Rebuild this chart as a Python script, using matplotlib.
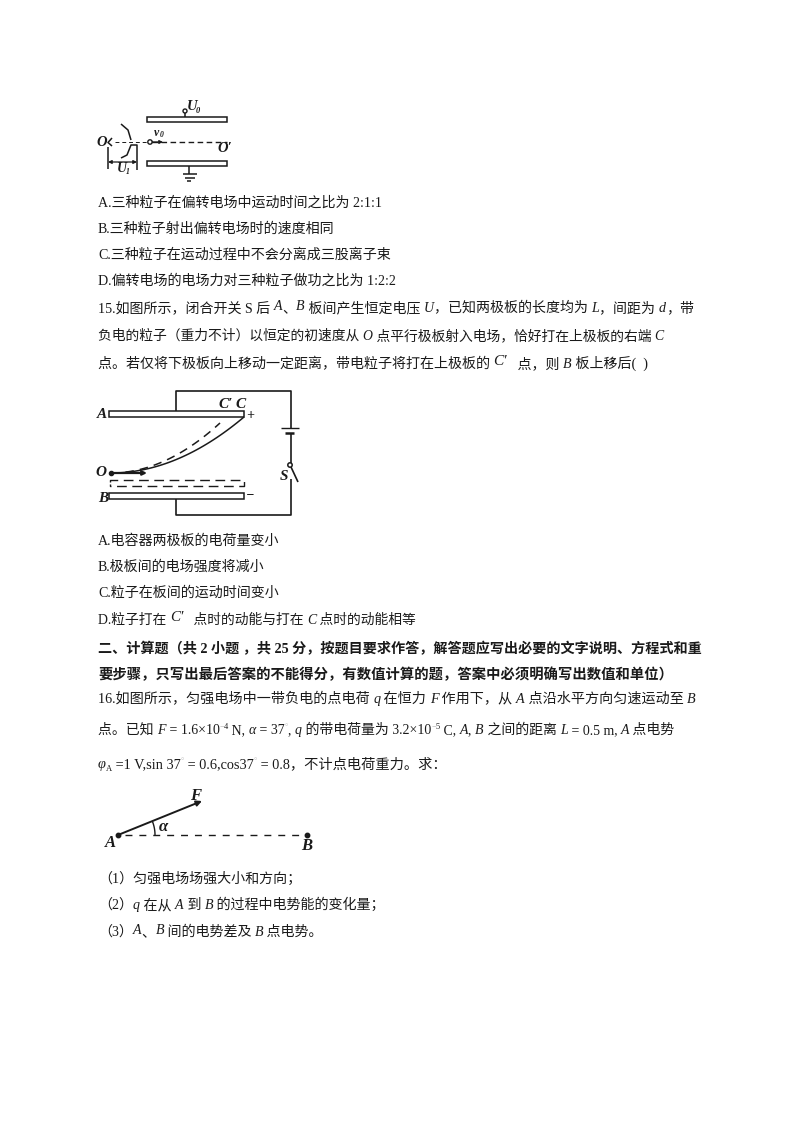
import numpy as np
import matplotlib
matplotlib.use('Agg')
import matplotlib.pyplot as plt
from matplotlib.patches import Rectangle, Circle

plt.rcParams['font.family'] = ['Liberation Serif', 'Noto Sans CJK SC']
SERIF = ['Liberation Serif', 'Noto Sans CJK SC']
INK = '#1a1a1a'

# page text: (center y, right edge to fit or None, segments)
# segment kinds: r plain, i italic, b bold, s superscript, f faint superscript,
# u subscript, a raised italic, m big raised italic
page_lines = [
    (202, None, [('A.三种粒子在偏转电场中运动时间之比为 2:1:1', 'r')]),
    (228, None, [('B.三种粒子射出偏转电场时的速度相同', 'r')]),
    (254, None, [('C.三种粒子在运动过程中不会分离成三股离子束', 'r')]),
    (280, None, [('D.偏转电场的电场力对三种粒子做功之比为 1:2:2', 'r')]),
    (307, 692, [('15.如图所示，闭合开关 S 后 ', 'r'), ('A', 'a'), ('、', 'r'), ('B', 'a'),
                (' 板间产生恒定电压 ', 'r'), ('U', 'i'), ('，已知两极板的长度均为 ', 'r'), ('L', 'i'),
                ('，间距为 ', 'r'), ('d', 'i'), ('，带', 'r')]),
    (335, 664, [('负电的粒子（重力不计）以恒定的初速度从 ', 'r'), ('O', 'i'),
                (' 点平行极板射入电场，恰好打在上极板的右端 ', 'r'), ('C', 'i')]),
    (363, 648, [('点。若仅将下极板向上移动一定距离，带电粒子将打在上极板的 ', 'r'), ('C′', 'm'),
                ('   点，则 ', 'r'), ('B', 'i'), (' 板上移后(  )', 'r')]),
    (540, None, [('A.电容器两极板的电荷量变小', 'r')]),
    (566, None, [('B.极板间的电场强度将减小', 'r')]),
    (592, None, [('C.粒子在板间的运动时间变小', 'r')]),
    (619, 416, [('D.粒子打在 ', 'r'), ('C′', 'm'), ('   点时的动能与打在 ', 'r'), ('C', 'i'), (' 点时的动能相等', 'r')]),
    (648, 700, [('二、计算题（共 2 小题 ，共 25 分，按题目要求作答，解答题应写出必要的文字说明、方程式和重', 'b')]),
    (674, 670, [('要步骤，只写出最后答案的不能得分，有数值计算的题，答案中必须明确写出数值和单位）', 'b')]),
    (698, 693, [('16.如图所示，匀强电场中一带负电的点电荷 ', 'r'), ('q', 'i'), (' 在恒力 ', 'r'), ('F', 'i'),
                (' 作用下，从 ', 'r'), ('A', 'i'), (' 点沿水平方向匀速运动至 ', 'r'), ('B', 'i')]),
    (729, 675, [('点。已知 ', 'r'), ('F', 'i'), (' = 1.6×10', 'r'), ('−', 'f'), ('4', 's'), (' N, ', 'r'), ('α', 'i'),
                (' = 37', 'r'), ('°', 'f'), (', ', 'r'), ('q', 'i'), (' 的带电荷量为 3.2×10', 'r'), ('−', 'f'), ('5', 's'),
                (' C, ', 'r'), ('A', 'i'), (', ', 'r'), ('B', 'i'), (' 之间的距离 ', 'r'), ('L', 'i'), (' = 0.5 m, ', 'r'),
                ('A', 'i'), (' 点电势', 'r')]),
    (763, 445, [('φ', 'i'), ('A', 'u'), (' =1 V,sin 37', 'r'), ('°', 'f'), (' = 0.6,cos37', 'r'), ('°', 'f'),
                (' = 0.8，不计点电荷重力。求：', 'r')]),
    (878, None, [('（1）匀强电场场强大小和方向；', 'r')]),
    (904, None, [('（2）', 'r'), ('q', 'i'), (' 在从 ', 'r'), ('A', 'i'), (' 到 ', 'r'), ('B', 'i'), (' 的过程中电势能的变化量；', 'r')]),
    (931, None, [('（3）', 'r'), ('A', 'a'), ('、', 'r'), ('B', 'a'), (' 间的电势差及 ', 'r'), ('B', 'i'), (' 点电势。', 'r')]),
]

# diagram labels: (x, y, text, size)
labels_1 = [(192, 107, 'U', 10.5), (197.5, 111, '0', 6), (157, 133, 'v', 8.5), (161.5, 135, '0', 5.5),
            (102, 143, 'O', 10.5), (225, 149, 'O′', 10.5), (122, 169, 'U', 10), (127.5, 172, '1', 5.5)]
labels_2 = [(102, 415, 'A', 11), (103, 498, 'B', 11), (101, 473, 'O', 11), (226, 404, 'C′', 11),
            (241, 404, 'C', 11), (284, 476, 'S', 11), (250, 415, '+', 10), (250, 495, '−', 10)]
labels_3 = [(196, 796, 'F', 12), (110, 843, 'A', 12), (307, 846, 'B', 12), (163, 827, 'α', 12)]

fig = plt.figure(figsize=(8, 11.32), dpi=100)
ax = fig.add_axes([0, 0, 1, 1])
ax.set_xlim(0, 800)
ax.set_ylim(1132, 0)
ax.axis('off')
renderer = fig.canvas.get_renderer()


def seg_style(kind, size):
    if kind in ('i', 'a'):
        return dict(fontsize=size, style='italic')
    if kind == 'm':
        return dict(fontsize=size * 1.1, style='italic')
    if kind == 'b':
        return dict(fontsize=size, weight='bold')
    if kind in ('s', 'f', 'u'):
        return dict(fontsize=size * 0.6)
    return dict(fontsize=size)


def draw_line(y, right, segs, x0=98, size=10.1):
    # first pass measures the natural width, second pass draws it scaled to fit
    if right is not None:
        total = 0
        for txt, kind in segs:
            t = ax.text(0, 0, txt, family=SERIF, **seg_style(kind, size))
            total += t.get_window_extent(renderer).width
            t.remove()
        size = size * (right - x0) / total
    x = x0
    for txt, kind in segs:
        dy = {'s': -5, 'f': -5, 'u': 3, 'a': -2, 'm': -3}.get(kind, 0)
        color = '#b5b5b5' if kind == 'f' else INK
        t = ax.text(x, y + 5 + dy, txt, family=SERIF, va='baseline', ha='left', color=color,
                    **seg_style(kind, size))
        x += t.get_window_extent(renderer).width


for y, right, segs in page_lines:
    draw_line(y, right, segs)


def line(xs, ys, lw=1.1, ls='-'):
    ax.plot(xs, ys, color=INK, lw=lw, ls=ls, solid_capstyle='butt')


def plate(x0, y0, x1, y1):
    ax.add_patch(Rectangle((x0, y0), x1 - x0, y1 - y0, fill=False, ec=INK, lw=1.1))


def arrow(x0, y0, x1, y1, style='-|>', lw=1.1, scale=7):
    ax.annotate('', xy=(x1, y1), xytext=(x0, y0),
                arrowprops=dict(arrowstyle=style, color=INK, lw=lw, mutation_scale=scale,
                                shrinkA=0, shrinkB=0))


def parabola(x0, y0, x1, y1, ls):
    xs = np.linspace(x0, x1, 40)
    ys = y0 + (y1 - y0) * ((xs - x0) / (x1 - x0)) ** 2
    line(xs, ys, lw=1.1, ls=ls)


def put_labels(items):
    for x, y, txt, size in items:
        ax.text(x, y, txt, ha='center', va='center', fontsize=size, color=INK,
                family='Liberation Serif', style='italic', weight='bold')


# diagram 1, deflection plates
plate(147, 117, 227, 122)
plate(147, 161, 227, 166)
ax.add_patch(Circle((185, 111), 2, fill=False, ec=INK, lw=1.0))
line([185, 185], [113, 117])
line([115, 147], [142, 142], lw=0.7, ls=(0, (4, 3)))
line([152, 227], [142, 142], lw=1.0, ls=(0, (4, 2.5)))
ax.add_patch(Circle((150, 142), 2.2, fill=False, ec=INK, lw=1.0))
arrow(152, 142, 163, 142, lw=0.9, scale=5)
line([112, 108, 112], [138, 142.5, 146])
line([108, 108], [147, 169])
line([121, 128, 131], [124, 130, 140])
line([121, 127, 131, 137, 137], [158, 155, 145, 145, 170])
arrow(108, 162, 137, 162, style='<|-|>', lw=0.9, scale=5)
line([189, 189], [166, 174])
line([183, 197], [174, 174])
line([185, 195], [178, 178])
line([187, 191], [181, 181])
put_labels(labels_1)

# diagram 2, capacitor circuit
plate(109, 411, 244, 417)
plate(109, 493, 244, 499)
line([110, 110, 244, 244, 110, 110], [482, 480, 480, 486, 486, 484], lw=1.0, ls=(0, (7, 4)))
line([176, 176, 291, 291], [411, 391, 391, 428], lw=1.2)
line([281, 299], [428, 428], lw=1.0)
line([285, 294], [433, 433], lw=1.8)
line([291, 291], [433, 463], lw=1.2)
ax.add_patch(Circle((290, 465), 2.2, fill=False, ec=INK, lw=1.1))
line([291, 298], [467, 482], lw=1.2)
line([291, 291, 176, 176], [479, 515, 515, 499], lw=1.2)
parabola(111, 473, 244, 417, '-')
parabola(111, 473, 220, 423, (0, (5.5, 4)))
arrow(111, 473, 147, 473, lw=1.6, scale=6)
ax.plot([111], [473], 'o', color=INK, ms=3)
put_labels(labels_2)

# diagram 3, force on the charge
ax.plot([118, 307], [835, 835], 'o', color=INK, ms=3.2)
arrow(118, 835, 202, 801, lw=1.4, scale=8)
line([125, 307], [835, 835], lw=1.0, ls=(0, (5, 5)))
ang = np.radians(np.linspace(0, 22, 20))
line(118 + 37 * np.cos(ang), 835 - 37 * np.sin(ang), lw=1.0)
put_labels(labels_3)

fig.savefig('out.png', dpi=100)
